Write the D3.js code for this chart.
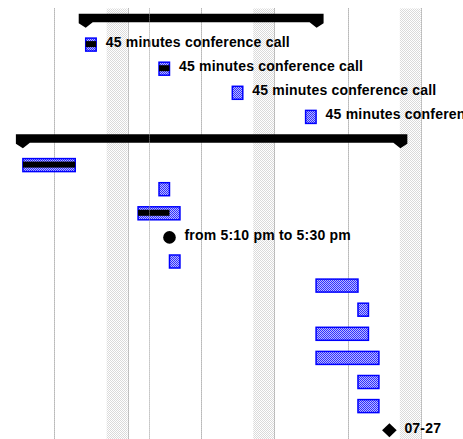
<!DOCTYPE html>
<html>
<head>
<meta charset="utf-8">
<script src="https://cdn.jsdelivr.net/npm/d3@7"></script>
<style>
  html, body { margin: 0; padding: 0; background: #fff; overflow: hidden; }
  svg { display: block; }
  text { font-family: "Liberation Sans", Arial, sans-serif; font-weight: bold; font-size: 14px; fill: #000; letter-spacing: 0.2px; }
</style>
</head>
<body>
<svg id="chart" width="463" height="439"></svg>
<script>
// ---------------- data ----------------
const rowCount = 18;
const summaries = [
  { row: 0, start: "2007-06-28", end: "2007-07-20" },
  { row: 5, start: "2007-06-22", end: "2007-07-28" }
];
const tasks = [
  { row: 1,  start: "2007-06-28", end: "2007-06-29", progress: 1,    label: "45 minutes conference call" },
  { row: 2,  start: "2007-07-05", end: "2007-07-06", progress: 1,    label: "45 minutes conference call" },
  { row: 3,  start: "2007-07-12", end: "2007-07-13", progress: 0,    label: "45 minutes conference call" },
  { row: 4,  start: "2007-07-19", end: "2007-07-20", progress: 0,    label: "45 minutes conference call" },
  { row: 6,  start: "2007-06-22", end: "2007-06-27", progress: 1,    label: "" },
  { row: 7,  start: "2007-07-05", end: "2007-07-06", progress: 0,    label: "" },
  { row: 8,  start: "2007-07-03", end: "2007-07-07", progress: 0.75, label: "" },
  { row: 10, start: "2007-07-06", end: "2007-07-07", progress: 0,    label: "" },
  { row: 11, start: "2007-07-20", end: "2007-07-24", progress: 0,    label: "" },
  { row: 12, start: "2007-07-24", end: "2007-07-25", progress: 0,    label: "" },
  { row: 13, start: "2007-07-20", end: "2007-07-25", progress: 0,    label: "" },
  { row: 14, start: "2007-07-20", end: "2007-07-26", progress: 0,    label: "" },
  { row: 15, start: "2007-07-24", end: "2007-07-26", progress: 0,    label: "" },
  { row: 16, start: "2007-07-24", end: "2007-07-26", progress: 0,    label: "" }
];
const milestones = [
  { row: 9,  date: "2007-07-06", shape: "circle",  label: "from 5:10 pm to 5:30 pm" },
  { row: 17, date: "2007-07-27", shape: "diamond", label: "07-27" }
];
const shadedWeekends = [
  ["2007-06-30", "2007-07-02"],
  ["2007-07-14", "2007-07-16"],
  ["2007-07-28", "2007-07-30"]
];
const markerDates = ["2007-07-04"];

// ---------------- scales ----------------
const W = 463, H = 439;
const parse = d3.timeParse("%Y-%m-%d");
const x = d3.scaleTime()
  .domain([parse("2007-06-25"), parse("2007-07-23")])
  .range([54.3, 347.5]);
const y = d3.scaleBand()
  .domain(d3.range(rowCount))
  .range([8.45, 8.45 + rowCount * 24.1]);
const cy = r => y(r) + y.bandwidth() / 2;
const top0 = 8.45;

const svg = d3.select("#chart");
const defs = svg.append("defs");

// gray dotted pattern for shaded weekends
const gp = defs.append("pattern").attr("id", "grayDots")
  .attr("patternUnits", "userSpaceOnUse").attr("width", 2).attr("height", 2);
gp.append("rect").attr("width", 2).attr("height", 2).attr("fill", "#fff");
gp.append("rect").attr("x", 0).attr("y", 0).attr("width", 1).attr("height", 1).attr("fill", "#dadada");
gp.append("rect").attr("x", 1).attr("y", 1).attr("width", 1).attr("height", 1).attr("fill", "#dadada");

// blue dotted pattern for task bars
const bp = defs.append("pattern").attr("id", "blueDots")
  .attr("patternUnits", "userSpaceOnUse").attr("width", 2).attr("height", 2);
bp.append("rect").attr("width", 2).attr("height", 2).attr("fill", "#b8b8ff");
bp.append("rect").attr("x", 0).attr("y", 0).attr("width", 1).attr("height", 1).attr("fill", "#3030ff");
bp.append("rect").attr("x", 1).attr("y", 1).attr("width", 1).attr("height", 1).attr("fill", "#3030ff");

// ---------------- background ----------------
svg.append("g").selectAll("rect").data(shadedWeekends).join("rect")
  .attr("x", d => x(parse(d[0])))
  .attr("width", d => x(parse(d[1])) - x(parse(d[0])))
  .attr("y", top0).attr("height", H - top0)
  .attr("fill", "url(#grayDots)");

const mondays = d3.timeMonday.range(x.invert(0), x.invert(W));
svg.append("g").selectAll("line").data(mondays).join("line")
  .attr("x1", d => Math.round(x(d)) + 0.5).attr("x2", d => Math.round(x(d)) + 0.5)
  .attr("y1", top0).attr("y2", H)
  .attr("stroke", "#808080").attr("stroke-width", 1).attr("stroke-dasharray", "1,1");

// ---------------- summaries ----------------
svg.append("g").selectAll("path").data(summaries).join("path")
  .attr("d", d => {
    const s = x(parse(d.start)), e = x(parse(d.end)), c = cy(d.row);
    const t = c - 6.7, b = c + 1.7, a = c + 7.3;
    return `M${s - 7},${t}H${e + 7.5}V${b + 1}L${e + 0.5},${a}L${e - 6.5},${b}H${s + 7}L${s},${a}L${s - 7},${b + 1}Z`;
  })
  .attr("fill", "#000");

// ---------------- tasks ----------------
const tg = svg.append("g").selectAll("g").data(tasks).join("g");
tg.append("rect")
  .attr("x", d => x(parse(d.start)))
  .attr("width", d => x(parse(d.end)) - x(parse(d.start)))
  .attr("y", d => cy(d.row) - 6.5).attr("height", 13)
  .attr("fill", "url(#blueDots)")
  .attr("stroke", "#0000ff").attr("stroke-width", 1.5);
tg.filter(d => d.progress > 0).append("rect")
  .attr("x", d => x(parse(d.start)))
  .attr("width", d => d.progress * (x(parse(d.end)) - x(parse(d.start))))
  .attr("y", d => cy(d.row) - 3.5).attr("height", 6)
  .attr("fill", "#000");
tg.filter(d => d.label).append("text")
  .attr("x", d => x(parse(d.end)) + 9.5)
  .attr("y", d => cy(d.row) + 2.4)
  .text(d => d.label);

// ---------------- milestones ----------------
const mg = svg.append("g").selectAll("g").data(milestones).join("g");
mg.filter(d => d.shape === "circle").append("circle")
  .attr("cx", d => x(parse(d.date))).attr("cy", d => cy(d.row)).attr("r", 6.3)
  .attr("fill", "#000");
mg.filter(d => d.shape === "diamond").append("path")
  .attr("d", d => {
    const cx = x(parse(d.date)), c = cy(d.row);
    return `M${cx},${c - 7}L${cx + 7.3},${c}L${cx},${c + 7}L${cx - 7.3},${c}Z`;
  })
  .attr("fill", "#000");
mg.append("text")
  .attr("x", d => x(parse(d.date)) + 15)
  .attr("y", d => cy(d.row) + 2.4)
  .text(d => d.label);

// ---------------- marker line (drawn on top) ----------------
svg.append("g").selectAll("line").data(markerDates).join("line")
  .attr("x1", d => Math.round(x(parse(d))) + 0.5).attr("x2", d => Math.round(x(parse(d))) + 0.5)
  .attr("y1", top0).attr("y2", H)
  .attr("stroke", "#9a9a9a").attr("stroke-width", 1).attr("stroke-dasharray", "1,1");
</script>
</body>
</html>
